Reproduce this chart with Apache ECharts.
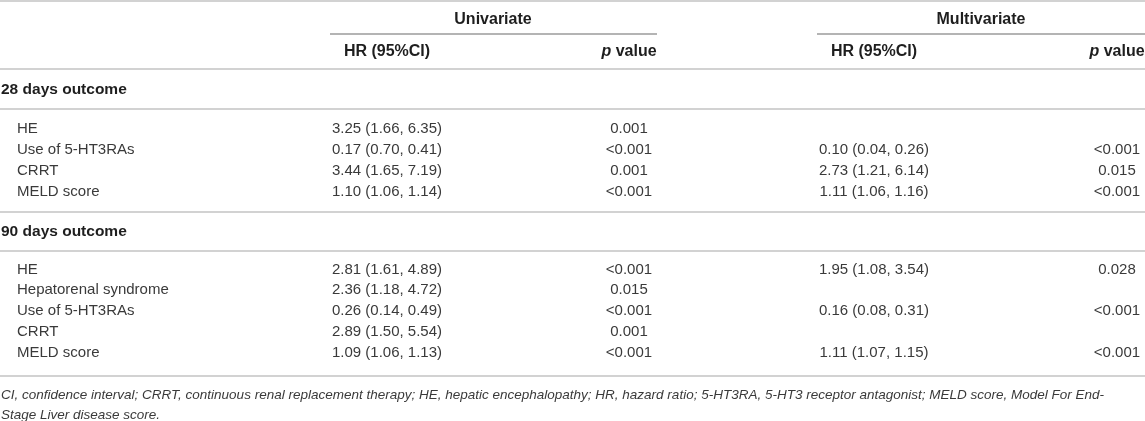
<!DOCTYPE html>
<html>
<head>
<meta charset="utf-8">
<script src="https://cdn.jsdelivr.net/npm/echarts@6/dist/echarts.min.js"></script>
<style>
  html, body { margin: 0; padding: 0; background: #fff; }
  #tableChart { width: 1145px; height: 421px; }
</style>
</head>
<body>
<div id="tableChart"></div>
<script>
// table content
var groupHeads = ['Univariate', 'Multivariate'];
var colHeads = ['HR (95%CI)', '{i|p} value', 'HR (95%CI)', '{i|p} value'];
var sections = ['28 days outcome', '90 days outcome'];

var names28 = ['HE', 'Use of 5-HT3RAs', 'CRRT', 'MELD score'];
var uniHR28 = ['3.25 (1.66, 6.35)', '0.17 (0.70, 0.41)', '3.44 (1.65, 7.19)', '1.10 (1.06, 1.14)'];
var uniP28 = ['0.001', '<0.001', '0.001', '<0.001'];
var multiHR28 = ['', '0.10 (0.04, 0.26)', '2.73 (1.21, 6.14)', '1.11 (1.06, 1.16)'];
var multiP28 = ['', '<0.001', '0.015', '<0.001'];

var names90 = ['HE', 'Hepatorenal syndrome', 'Use of 5-HT3RAs', 'CRRT', 'MELD score'];
var uniHR90 = ['2.81 (1.61, 4.89)', '2.36 (1.18, 4.72)', '0.26 (0.14, 0.49)', '2.89 (1.50, 5.54)', '1.09 (1.06, 1.13)'];
var uniP90 = ['<0.001', '0.015', '<0.001', '0.001', '<0.001'];
var multiHR90 = ['1.95 (1.08, 3.54)', '', '0.16 (0.08, 0.31)', '', '1.11 (1.07, 1.15)'];
var multiP90 = ['0.028', '', '<0.001', '', '<0.001'];

var footnotes = [
  'CI, confidence interval; CRRT, continuous renal replacement therapy; HE, hepatic encephalopathy; HR, hazard ratio; 5-HT3RA, 5-HT3 receptor antagonist; MELD score, Model For End-',
  'Stage Liver disease score.'
];

// layout (table units = pixels of the page)
var colX = [17, 387, 629, 874, 1117];
var groupX = [493, 981];
var rowY28 = [129, 150, 171, 192];
var rowY90 = [270, 290, 311, 332, 353];

var FONT = '"Liberation Sans", Arial, Helvetica, sans-serif';
var cells = [];
function cell(x, y, text, kind) {
  cells.push({ pos: [x, y], text: text, kind: kind });
}

groupHeads.forEach(function(t, i) { cell(groupX[i], 20, t, 'head'); });
colHeads.forEach(function(t, i) { cell(colX[i + 1], 52, t, 'head'); });
cell(1, 90, sections[0], 'section');
cell(1, 232, sections[1], 'section');

function addBlock(rows, names, a, b, c, d) {
  names.forEach(function(n, i) {
    var y = rows[i];
    cell(colX[0], y, n, 'name');
    [a, b, c, d].forEach(function(col, k) {
      if (col[i]) cell(colX[k + 1], y, col[i], 'value');
    });
  });
}
addBlock(rowY28, names28, uniHR28, uniP28, multiHR28, multiP28);
addBlock(rowY90, names90, uniHR90, uniP90, multiHR90, multiP90);
cell(1, 395, footnotes[0], 'note');
cell(1, 415, footnotes[1], 'note');

// rules: [x1, y, x2, kind]
var rules = [
  [0, 1, 1145, 'light'],
  [330, 34, 657, 'dark'],
  [817, 34, 1145, 'dark'],
  [0, 69, 1145, 'light'],
  [0, 109, 1145, 'light'],
  [0, 212, 1145, 'light'],
  [0, 251, 1145, 'light'],
  [0, 376, 1145, 'light']
];

var tableChart = echarts.init(document.getElementById('tableChart'));

var option = {
  animation: false,
  grid: { left: 0, right: 0, top: 0, bottom: 0 },
  xAxis: { type: 'value', min: 0, max: 1145, show: false },
  yAxis: { type: 'value', min: 0, max: 421, inverse: true, show: false },
  series: [{
    type: 'custom',
    silent: true,
    data: rules.map(function(r) { return [r[0], r[1], r[2]]; }),
    renderItem: function(params, api) {
      var r = rules[params.dataIndex];
      var p1 = api.coord([r[0], r[1]]);
      var p2 = api.coord([r[2], r[1]]);
      return {
        type: 'line',
        shape: { x1: p1[0], y1: p1[1], x2: p2[0], y2: p2[1] },
        style: r[3] === 'dark'
          ? { stroke: '#6b6b6b', lineWidth: 1.2 }
          : { stroke: '#d2d2d2', lineWidth: 2 }
      };
    }
  }, {
    type: 'custom',
    silent: true,
    data: cells.map(function(c) { return c.pos; }),
    renderItem: function(params, api) {
      var c = cells[params.dataIndex];
      var pt = api.coord(c.pos);
      var align = 'center', font, fill = '#3a3a3a';
      if (c.kind === 'head') {
        font = 'bold 16px ' + FONT; fill = '#1e1e1e';
      } else if (c.kind === 'section') {
        font = 'bold 15.5px ' + FONT; fill = '#1e1e1e'; align = 'left';
      } else if (c.kind === 'name') {
        font = '15px ' + FONT; align = 'left';
      } else if (c.kind === 'note') {
        font = 'italic 13.5px ' + FONT; align = 'left';
      } else {
        font = '15px ' + FONT;
      }
      return {
        type: 'text',
        x: pt[0],
        y: pt[1],
        style: {
          text: c.text,
          font: font,
          fill: fill,
          align: align,
          verticalAlign: 'middle',
          rich: { i: { fontStyle: 'italic', fontWeight: 'bold', fontSize: 16, fontFamily: FONT, fill: '#1e1e1e' } }
        }
      };
    }
  }]
};
tableChart.setOption(option);
</script>
</body>
</html>
